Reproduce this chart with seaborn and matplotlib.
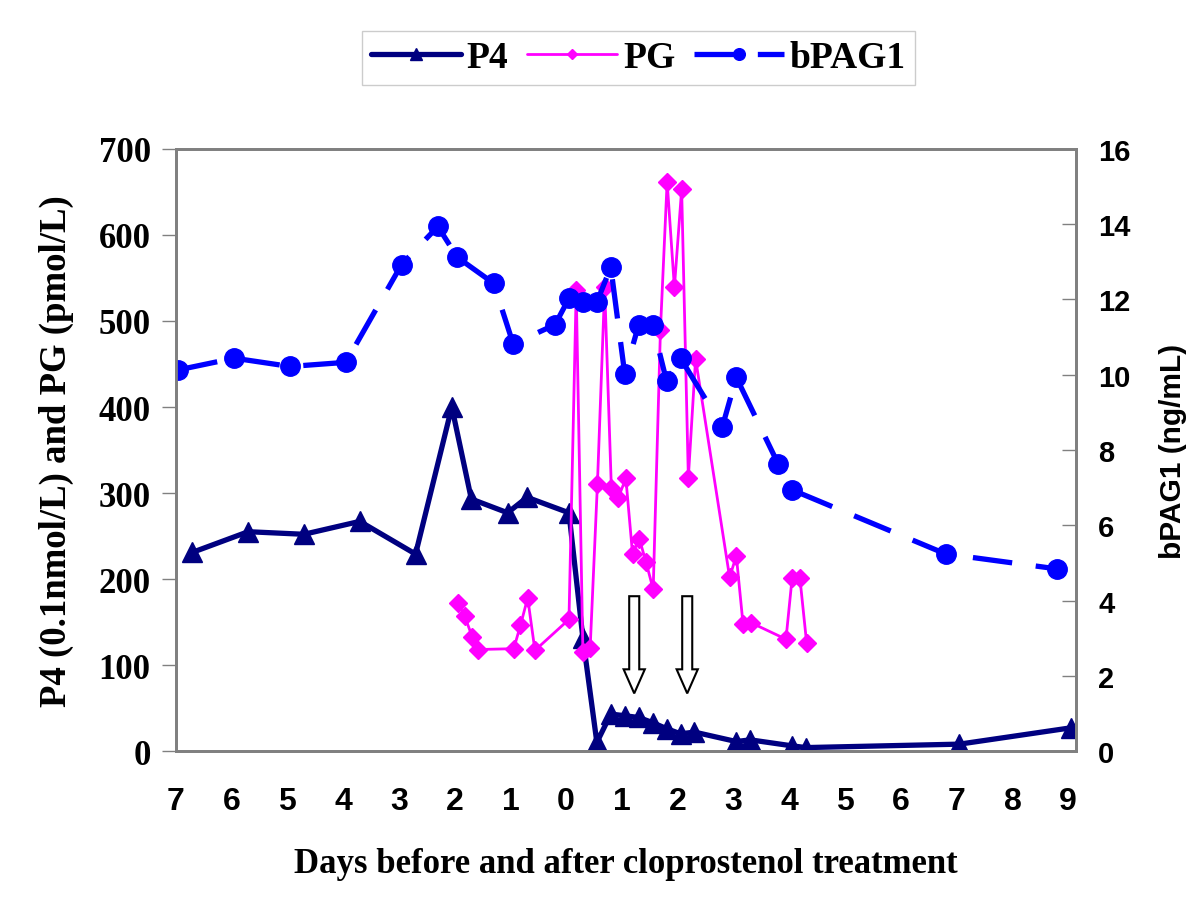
import numpy as np
import pandas as pd
import seaborn as sns
import matplotlib.pyplot as plt

# --- data ---
p4_days = [-6.7, -5.7, -4.7, -3.7, -2.7, -2.05, -1.7, -1.05, -0.7, 0.05, 0.3, 0.55, 0.8,
           1.05, 1.3, 1.55, 1.8, 2.05, 2.3, 3.05, 3.3, 4.05, 4.3, 7.05, 9.05]
p4_values = [231, 255, 252, 267, 229, 400, 293, 277, 295, 277, 131, 10, 43,
             41, 39, 33, 26, 20, 22, 11, 13, 6, 4, 8, 27]

pg_days = [-1.94, -1.82, -1.68, -1.58, -0.94, -0.82, -0.69, -0.56, 0.05, 0.18, 0.3, 0.43,
           0.56, 0.69, 0.81, 0.93, 1.07, 1.19, 1.31, 1.43, 1.56, 1.69, 1.81, 1.94, 2.07,
           2.19, 2.32, 2.93, 3.05, 3.17, 3.32, 3.94, 4.05, 4.19, 4.31]
pg_values = [172, 157, 132, 118, 119, 146, 178, 117, 153, 536, 115, 120,
             310, 539, 306, 294, 317, 229, 247, 220, 188, 490, 662, 539, 653,
             318, 456, 202, 227, 148, 149, 130, 201, 201, 126]

pag_days = [-6.95, -5.95, -4.95, -3.95, -2.95, -2.3, -1.95, -1.3, -0.95, -0.2, 0.05, 0.3,
            0.55, 0.8, 1.05, 1.3, 1.55, 1.8, 2.05, 2.8, 3.05, 3.8, 4.05, 6.8, 8.8]
pag_values = [10.13, 10.44, 10.22, 10.33, 12.93, 13.94, 13.12, 12.43, 10.82, 11.33, 12.03, 11.93,
              11.93, 12.86, 10.02, 11.33, 11.33, 9.83, 10.44, 8.62, 9.93, 7.63, 6.94, 5.24, 4.84]

# cloprostenol injections (hollow arrows)
treatment_days = [1.22, 2.17]

x_ticks = list(range(-7, 10))
x_tick_labels = [str(abs(t)) for t in x_ticks]
left_ticks = [0, 100, 200, 300, 400, 500, 600, 700]
right_ticks = [0, 2, 4, 6, 8, 10, 12, 14, 16]

p4_df = pd.DataFrame({'day': p4_days, 'value': p4_values})
pg_df = pd.DataFrame({'day': pg_days, 'value': pg_values})
pag_df = pd.DataFrame({'day': pag_days, 'value': pag_values})

sns.set_style('white')
plt.rcParams.update({'text.color': 'black', 'axes.labelcolor': 'black',
                     'xtick.color': 'black', 'ytick.color': 'black'})
SERIF = 'Liberation Serif'
SANS = 'Liberation Sans'
GREY = '#808080'

fig = plt.figure(figsize=(12, 9.03), dpi=100)
ax = fig.add_axes([0.1464, 0.1672, 0.7503, 0.6667])
ax2 = ax.twinx()

sns.lineplot(data=p4_df, x='day', y='value', ax=ax, color='#000080', linewidth=3.8,
             marker='^', markersize=14, markeredgecolor='#000080', markeredgewidth=1,
             estimator=None, label='P4', legend=False)
sns.lineplot(data=pg_df, x='day', y='value', ax=ax, color='#FF00FF', linewidth=2,
             marker='D', markersize=9, markeredgecolor='#FF00FF', markeredgewidth=1,
             estimator=None, label='PG', legend=False)
sns.lineplot(data=pag_df, x='day', y='value', ax=ax2, color='#0000FF', linewidth=3.8,
             marker='o', markersize=14, markeredgecolor='#0000FF', markeredgewidth=1,
             estimator=None, label='bPAG1', legend=False)
ax2.lines[0].set_linestyle((0, (7.5, 4.5)))

for d in treatment_days:
    ax.arrow(d, 180, 0, -85, width=0.18, head_width=0.38, head_length=28,
             length_includes_head=False, fc='white', ec='black', lw=1.5, zorder=5)

ax.set_xlim(-7, 9.14)
ax.set_ylim(0, 700)
ax2.set_ylim(0, 16)

ax.set_xticks(x_ticks)
ax.set_xticklabels(x_tick_labels, fontfamily=SANS, fontweight='bold', fontsize=23)
ax.set_xticks(np.arange(-6.5, 9.1, 1.0), minor=True)
ax.tick_params(axis='x', which='both', direction='inout', length=13, width=1, color=GREY, pad=19)

ax.set_yticks(left_ticks)
ax.set_yticklabels([str(t) for t in left_ticks], fontfamily=SERIF, fontweight='bold', fontsize=25)
ax.tick_params(axis='y', direction='out', length=10, width=1, color=GREY, pad=8)

ax2.set_yticks(right_ticks)
ax2.set_yticklabels([str(t) for t in right_ticks], fontfamily=SANS, fontweight='bold', fontsize=21)
ax2.tick_params(axis='y', direction='in', length=10, width=1, color=GREY, pad=16)

for a in (ax, ax2):
    for s in a.spines.values():
        s.set_color(GREY)
        s.set_linewidth(2)
        s.set_visible(True)

ax.set_xlabel('Days before and after cloprostenol treatment', fontfamily=SERIF,
              fontweight='bold', fontsize=25)
ax.xaxis.set_label_coords(0.5, -0.16)
ax.set_ylabel('P4 (0.1nmol/L) and PG (pmol/L)', fontfamily=SERIF, fontweight='bold', fontsize=26.5)
ax.yaxis.set_label_coords(-0.113, 0.5)
ax2.set_ylabel('bPAG1 (ng/mL)', fontfamily=SANS, fontweight='bold', fontsize=21.5)
ax2.yaxis.set_label_coords(1.092, 0.5)

handles = ax.lines[:2] + ax2.lines[:1]
leg = fig.legend(handles, ['P4', 'PG', 'bPAG1'], loc='center', bbox_to_anchor=(0.532, 0.935),
                 ncol=3, frameon=True, fancybox=False, edgecolor='#c0c0c0',
                 prop={'family': SERIF, 'weight': 'bold', 'size': 27},
                 handlelength=2.4, handletextpad=0.15, columnspacing=0.5,
                 markerscale=0.6, borderpad=0.25)
leg.get_frame().set_linewidth(1)

fig.savefig('out.png', dpi=100)
